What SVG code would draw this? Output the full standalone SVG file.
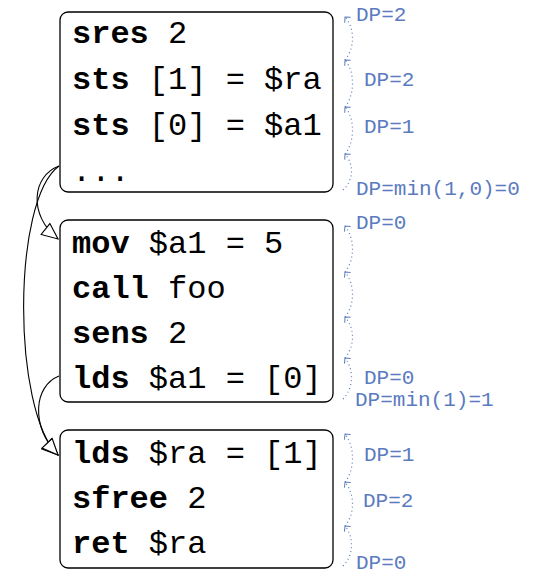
<svg xmlns="http://www.w3.org/2000/svg" width="537" height="575" viewBox="0 0 537 575">
<style>
.box{fill:#fff;stroke:#000;stroke-width:1.3}
.code{font-family:"Liberation Mono",monospace;font-size:32px;fill:#000}
.k{font-weight:bold}
.edge{fill:none;stroke:#000;stroke-width:1.1}
.dp{fill:none;stroke:#5b7bbf;stroke-width:1.2;stroke-dasharray:1 3}
.lbl{font-family:"Liberation Mono",monospace;font-size:21px;fill:#5b7bbf}
</style>
<defs>
<marker id="tri" markerUnits="userSpaceOnUse" viewBox="-1 -1 18 16" refX="16" refY="7" markerWidth="18" markerHeight="16" orient="auto">
<path d="M0,0 L16,7 L0,14 Z" fill="#fff" stroke="#000" stroke-width="1.1"/>
</marker>
<marker id="chev" markerUnits="userSpaceOnUse" viewBox="-7 -7 10 14" refX="0" refY="0" markerWidth="10" markerHeight="14" orient="auto">
<path d="M-4,-4 L0,0 L-4,4" fill="none" stroke="#5b7bbf" stroke-width="1"/>
</marker>
</defs>
<g id="connectors">
<path class="edge" d="M59,166 C32,176 28,215 58,239" marker-end="url(#tri)"/>
<path class="edge" d="M59,166 C12,200 12,410 58,455" marker-end="url(#tri)"/>
<path class="edge" d="M59,376 C34,386 30,425 58,455" marker-end="url(#tri)"/>
</g>
<g id="block1">
<rect class="box" x="60" y="12" width="273" height="180" rx="8"/>
<text class="code" x="72" y="43"><tspan class="k">sres</tspan> 2</text>
<text class="code" x="72" y="89"><tspan class="k">sts</tspan> [1] = $ra</text>
<text class="code" x="72" y="135"><tspan class="k">sts</tspan> [0] = $a1</text>
<text class="code" x="72" y="181">...</text>
</g>
<g id="block2">
<rect class="box" x="60" y="220" width="273" height="182" rx="8"/>
<text class="code" x="72" y="253"><tspan class="k">mov</tspan> $a1 = 5</text>
<text class="code" x="72" y="298"><tspan class="k">call</tspan> foo</text>
<text class="code" x="72" y="343"><tspan class="k">sens</tspan> 2</text>
<text class="code" x="72" y="388"><tspan class="k">lds</tspan> $a1 = [0]</text>
</g>
<g id="block3">
<rect class="box" x="60" y="430" width="273" height="138" rx="8"/>
<text class="code" x="72" y="463"><tspan class="k">lds</tspan> $ra = [1]</text>
<text class="code" x="72" y="508"><tspan class="k">sfree</tspan> 2</text>
<text class="code" x="72" y="553"><tspan class="k">ret</tspan> $ra</text>
</g>
<g id="dp-annotations">
<path class="dp" d="M343,190 C354,180 354,164 345,154" marker-end="url(#chev)"/>
<path class="dp" d="M345,154 C355,142 355,118 345,107" marker-end="url(#chev)"/>
<path class="dp" d="M345,107 C355,95 355,71 345,60" marker-end="url(#chev)"/>
<path class="dp" d="M345,60 C355,48 355,28 345,17" marker-end="url(#chev)"/>
<text class="lbl" x="356" y="21">DP=2</text>
<text class="lbl" x="364" y="86">DP=2</text>
<text class="lbl" x="364" y="133">DP=1</text>
<text class="lbl" x="356" y="195">DP=min(1,0)=0</text>
<path class="dp" d="M343,399 C354,388 354,369 345,358" marker-end="url(#chev)"/>
<path class="dp" d="M345,358 C355,346 355,328 345,317" marker-end="url(#chev)"/>
<path class="dp" d="M345,317 C355,305 355,284 345,272" marker-end="url(#chev)"/>
<path class="dp" d="M345,272 C355,260 355,238 345,226" marker-end="url(#chev)"/>
<text class="lbl" x="356" y="229">DP=0</text>
<text class="lbl" x="364" y="384">DP=0</text>
<text class="lbl" x="355" y="406">DP=min(1)=1</text>
<path class="dp" d="M343,566 C354,555 354,537 345,526" marker-end="url(#chev)"/>
<path class="dp" d="M345,526 C355,514 355,494 345,482" marker-end="url(#chev)"/>
<path class="dp" d="M345,482 C355,470 355,446 345,434" marker-end="url(#chev)"/>
<text class="lbl" x="364" y="461">DP=1</text>
<text class="lbl" x="363" y="507">DP=2</text>
<text class="lbl" x="356" y="569">DP=0</text>
</g>
</svg>
